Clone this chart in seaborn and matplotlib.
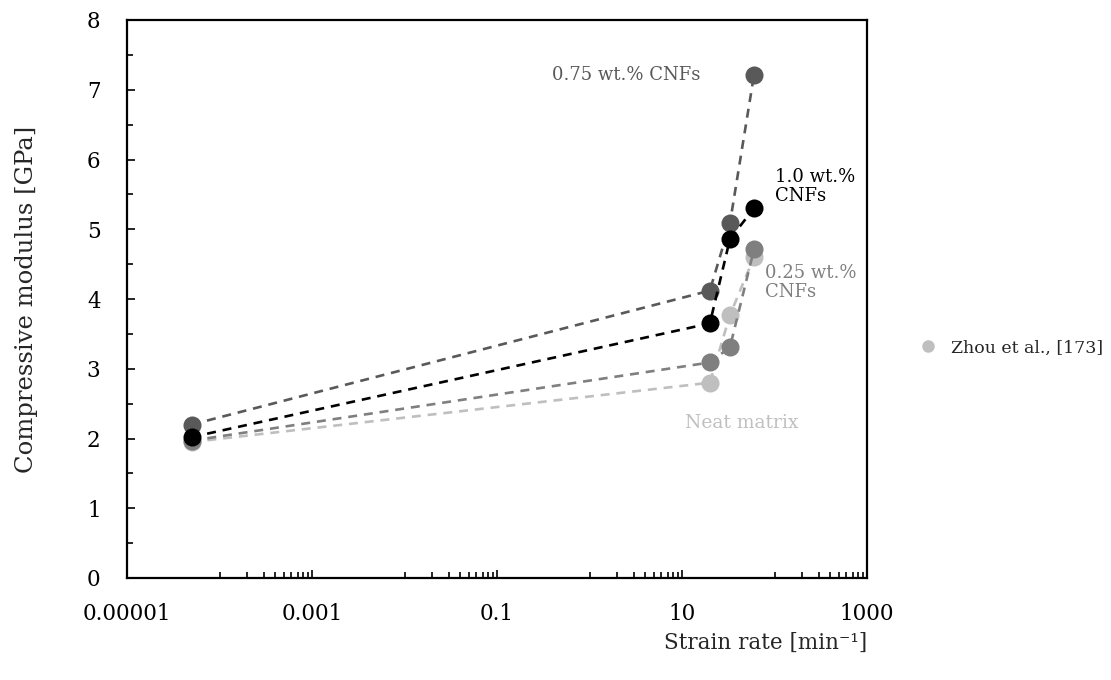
import matplotlib
matplotlib.use("Agg")
import matplotlib.pyplot as plt
import matplotlib.ticker as mticker
from matplotlib.lines import Line2D
import seaborn as sns
import pandas as pd

# Strain rates [1/min] and compressive modulus [GPa] for each composition
strain_rate = [5e-5, 20, 33, 60]
neat_matrix = [1.95, 2.80, 3.77, 4.60]
cnf_025 = [1.97, 3.09, 3.31, 4.71]
cnf_075 = [2.20, 4.12, 5.09, 7.21]
cnf_100 = [2.02, 3.65, 4.86, 5.30]

series_names = ["Neat matrix", "0.25 wt.% CNFs", "0.75 wt.% CNFs", "1.0 wt.% CNFs"]
series_values = [neat_matrix, cnf_025, cnf_075, cnf_100]
series_colors = ["#bfbfbf", "#7f7f7f", "#595959", "#000000"]

x_major_ticks = [1e-5, 1e-3, 1e-1, 10, 1000]
x_tick_labels = ["0.00001", "0.001", "0.1", "10", "1000"]
y_ticks = [0, 1, 2, 3, 4, 5, 6, 7, 8]
y_tick_labels = ["0", "1", "2", "3", "4", "5", "6", "7", "8"]

legend_label = "Zhou et al., [173]"

rows = []
for name, vals in zip(series_names, series_values):
    for sr, v in zip(strain_rate, vals):
        rows.append({"strain": sr, "modulus": v, "series": name})
df = pd.DataFrame(rows)

sns.set_style("ticks")
plt.rcParams["font.family"] = ["DejaVu Serif"]

fig = plt.figure(figsize=(11.11, 6.8), dpi=100)
ax = fig.add_axes([127 / 1111, 1 - 578 / 680, 740 / 1111, 558 / 680])

sns.lineplot(
    data=df, x="strain", y="modulus", hue="series",
    hue_order=series_names, palette=dict(zip(series_names, series_colors)),
    marker="o", markersize=13, markeredgewidth=0,
    linestyle=(0, (3.4, 2.6)), linewidth=1.9,
    estimator=None, sort=True, legend=False, ax=ax,
)

ax.set_xscale("log")
ax.set_xlim(1e-5, 1e3)
ax.set_ylim(0, 8)

ax.xaxis.set_major_locator(mticker.FixedLocator(x_major_ticks))
ax.xaxis.set_major_formatter(mticker.FixedFormatter(x_tick_labels))
minor_x = [k * 10.0 ** e for e in (-4, -2, 0, 2) for k in range(1, 10)]
ax.xaxis.set_minor_locator(mticker.FixedLocator(minor_x))
ax.xaxis.set_minor_formatter(mticker.NullFormatter())

ax.set_yticks(y_ticks)
ax.set_yticklabels(y_tick_labels)
ax.yaxis.set_minor_locator(mticker.MultipleLocator(0.5))

for side in ["left", "right", "top", "bottom"]:
    ax.spines[side].set_color("black")
    ax.spines[side].set_linewidth(1.6)

ax.tick_params(axis="both", which="major", direction="in", length=6, width=1.2,
               colors="black", labelsize=15.5)
ax.tick_params(axis="both", which="minor", direction="in", length=4, width=1.2,
               colors="black")
ax.tick_params(axis="x", which="major", pad=18)
ax.tick_params(axis="y", which="major", pad=19)

ax.set_xlabel("Strain rate [min⁻¹]", fontsize=15.5, loc="right")
ax.xaxis.set_label_coords(1.0, -0.097)
ax.set_ylabel("Compressive modulus [GPa]", fontsize=17.5)
ax.yaxis.set_label_coords(-0.12, 0.5)

ax.text(15.7, 7.21, "0.75 wt.% CNFs", color="#595959", fontsize=13,
        ha="right", va="center")
ax.text(101, 5.61, "1.0 wt.%\nCNFs", color="#000000", fontsize=13,
        ha="left", va="center", linespacing=1.05)
ax.text(79, 4.24, "0.25 wt.%\nCNFs", color="#808080", fontsize=13,
        ha="left", va="center", linespacing=1.05)
ax.text(10.8, 2.22, "Neat matrix", color="#c0c0c0", fontsize=13.5,
        ha="left", va="center")

handle = Line2D([], [], marker="o", color="#bfbfbf", linestyle="none",
                markersize=9, markeredgewidth=0)
fig.legend(handles=[handle], labels=[legend_label], loc="center left",
           bbox_to_anchor=(895 / 1111, 1 - 348 / 680), frameon=False,
           fontsize=12.5, handletextpad=0.3)

fig.savefig("out.png", dpi=100)
